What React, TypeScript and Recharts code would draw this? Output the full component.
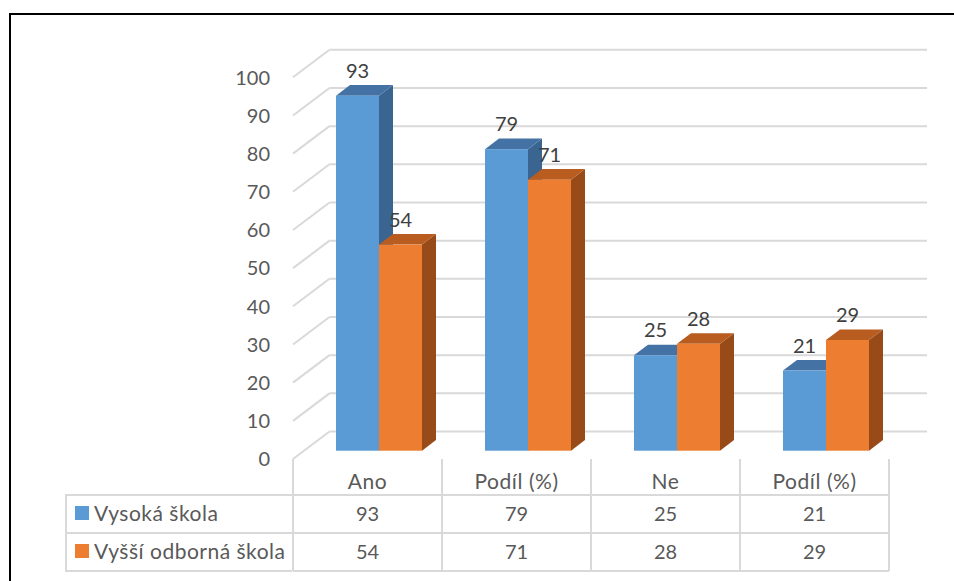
import React from 'react';
import { BarChart, Bar, XAxis, YAxis, CartesianGrid, Legend, LabelList } from 'recharts';

const categories = ['Ano', 'Podíl (%)', 'Ne', 'Podíl (%)'];
const vysokaSkola = [93, 79, 25, 21];
const vyssiOdborna = [54, 71, 28, 29];
const yTicks = [0, 10, 20, 30, 40, 50, 60, 70, 80, 90, 100];

const data = categories.map((name, i) => ({
  name,
  vs: vysokaSkola[i],
  vos: vyssiOdborna[i],
}));

const FONT = 'Lato, "Open Sans", sans-serif';
const FONT_SIZE = 20;
// words are set a touch larger and looser than the numbers
const WORD = { fontSize: 21, letterSpacing: 0.5 };
const TEXT = '#595959';
const LABEL = '#404040';
const GRID = '#d9d9d9';

// plot area = the plane the bar fronts stand on
const PLOT = { left: 304, right: 900, top: 69, bottom: 450.7 };
const BAND = (PLOT.right - PLOT.left) / categories.length;
// 3d offsets
const DEPTH = { dx: 14, dy: -10.6 }; // bar thickness
const BACK = { dx: 25.5, dy: -19.2 }; // back wall
const FRONT = { dx: -11, dy: 8.3 }; // front edge of the floor
// data table rows
const ROWS = [PLOT.bottom + FRONT.dy, 495, 533, 571];

const prism = (front: string, top: string, side: string) => (props: any) => {
  const { x, y, width, height } = props;
  if (height == null || width == null) return null;
  const { dx, dy } = DEPTH;
  const r = x + width;
  const b = y + height;
  return (
    <g>
      <polygon points={`${r},${y} ${r + dx},${y + dy} ${r + dx},${b + dy} ${r},${b}`} fill={side} />
      <polygon points={`${x},${y} ${x + dx},${y + dy} ${r + dx},${y + dy} ${r},${y}`} fill={top} />
      <rect x={x} y={y} width={width} height={height} fill={front} />
    </g>
  );
};

const ValueLabel = (props: any) => {
  const vb = props.viewBox ?? props;
  const x = vb.x ?? props.x;
  const y = vb.y ?? props.y;
  const width = vb.width ?? props.width;
  return (
    <text x={x + width / 2} y={y - 18} textAnchor="middle" fill={LABEL} fontFamily={FONT} fontSize={FONT_SIZE}>
      {props.value}
    </text>
  );
};

const YTick = ({ y, payload }: any) => (
  <g>
    <line
      x1={PLOT.left + FRONT.dx}
      y1={y + FRONT.dy}
      x2={PLOT.left + BACK.dx}
      y2={y + BACK.dy}
      stroke={GRID}
      strokeWidth={2}
    />
    <text x={270} y={y + FRONT.dy} dy="0.36em" textAnchor="end" fill={TEXT} fontFamily={FONT} fontSize={FONT_SIZE}>
      {payload.value}
    </text>
  </g>
);

// one column of the data table under each category
const TableColumn = ({ x, payload }: any) => {
  const i = payload.index;
  const cx = x + FRONT.dx;
  const l = cx - BAND / 2;
  const r = cx + BAND / 2;
  const last = i === categories.length - 1;
  const line = { stroke: GRID, strokeWidth: 2 };
  const txt = { textAnchor: 'middle' as const, fill: TEXT, fontFamily: FONT, fontSize: FONT_SIZE, dy: '0.36em' };
  return (
    <g>
      <line x1={l} y1={ROWS[0]} x2={l} y2={ROWS[3]} {...line} />
      {last && <line x1={r} y1={ROWS[0]} x2={r} y2={ROWS[3]} {...line} />}
      <line x1={l} y1={ROWS[1]} x2={r} y2={ROWS[1]} {...line} />
      <line x1={l} y1={ROWS[2]} x2={r} y2={ROWS[2]} {...line} />
      <line x1={l} y1={ROWS[3]} x2={r} y2={ROWS[3]} {...line} />
      <text x={cx} y={481} {...txt} {...WORD}>{categories[i]}</text>
      <text x={cx} y={514} {...txt}>{vysokaSkola[i]}</text>
      <text x={cx} y={552} {...txt}>{vyssiOdborna[i]}</text>
    </g>
  );
};

// legend column on the left of the data table
const LegendColumn = ({ payload }: any) => {
  const items = payload ?? [];
  return (
    <svg width={229} height={78} style={{ display: 'block', overflow: 'visible' }}>
      <line x1={0} y1={1} x2={227} y2={1} stroke={GRID} strokeWidth={2} />
      <line x1={0} y1={39} x2={227} y2={39} stroke={GRID} strokeWidth={2} />
      <line x1={0} y1={77} x2={227} y2={77} stroke={GRID} strokeWidth={2} />
      <line x1={1} y1={0} x2={1} y2={78} stroke={GRID} strokeWidth={2} />
      {items.map((item: any, i: number) => (
        <g key={item.value}>
          <rect x={10} y={12 + i * 38} width={14} height={14} fill={item.color} />
          <text x={29} y={19 + i * 38} dy="0.36em" fill={TEXT} fontFamily={FONT} {...WORD}>
            {item.value}
          </text>
        </g>
      ))}
    </svg>
  );
};

export default function App() {
  return (
    <div style={{ position: 'absolute', left: 0, top: 0, width: 954, height: 581, overflow: 'hidden', background: '#fff' }}>
      <div
        style={{
          position: 'absolute',
          left: 9,
          top: 13,
          width: 1100,
          height: 700,
          borderTop: '2px solid #000',
          borderLeft: '2px solid #000',
        }}
      />
      <BarChart
        width={954}
        height={581}
        data={data}
        barSize={43}
        barGap={0}
        margin={{ top: PLOT.top, right: 954 - PLOT.right, bottom: 581 - PLOT.bottom - 30, left: PLOT.left - 60 }}
      >
        <CartesianGrid
          vertical={false}
          horizontal={(p: any) => (
            <line
              key={`g-${p.index}`}
              x1={p.x1 + BACK.dx}
              y1={p.y1 + BACK.dy}
              x2={p.x2 + BACK.dx + 1.5}
              y2={p.y2 + BACK.dy}
              stroke={GRID}
              strokeWidth={2}
            />
          )}
        />
        <XAxis dataKey="name" height={30} axisLine={false} tickLine={false} interval={0} tick={<TableColumn />} />
        <YAxis
          width={60}
          domain={[0, 100]}
          ticks={yTicks}
          interval={0}
          axisLine={false}
          tickLine={false}
          tick={<YTick />}
        />
        <Legend
          layout="horizontal"
          verticalAlign="middle"
          align="center"
          wrapperStyle={{ left: 65, top: 494, width: 229, height: 78 }}
          content={<LegendColumn />}
        />
        <Bar dataKey="vs" name="Vysoká škola" fill="#5b9bd5" isAnimationActive={false} shape={prism('#5b9bd5', '#4472a4', '#3a6591')}>
          <LabelList dataKey="vs" content={<ValueLabel />} />
        </Bar>
        <Bar dataKey="vos" name="Vyšší odborná škola" fill="#ed7d31" isAnimationActive={false} shape={prism('#ed7d31', '#b85d1f', '#984b18')}>
          <LabelList dataKey="vos" content={<ValueLabel />} />
        </Bar>
      </BarChart>
    </div>
  );
}
